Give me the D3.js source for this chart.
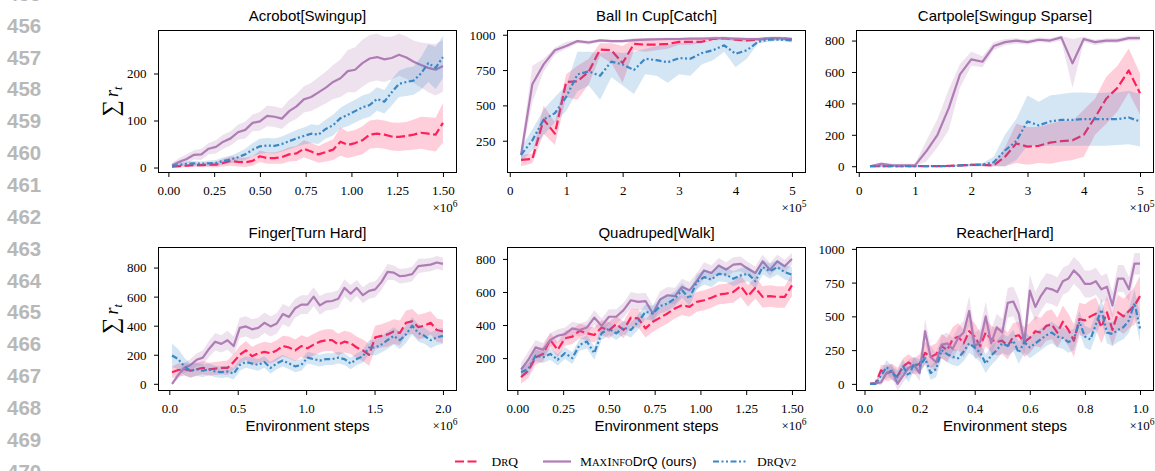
<!DOCTYPE html>
<html lang="en">
<head>
<meta charset="UTF-8">
<title>Learning curves</title>
<script src="https://cdn.jsdelivr.net/npm/d3@7"></script>
<style>
  body { margin: 0; background: #fff; }
  svg { display: block; }
</style>
</head>
<body>
<script>
// ---- data ----
const lineNumbers = [455, 456, 457, 458, 459, 460, 461, 462, 463, 464, 465, 466, 467, 468, 469, 470];

// Acrobot[Swingup], steps in 1e6
const acroX = d3.range(38).map(i => 0.02 + 0.04 * i);
const acroMax = [5,12,18,27,28,40,44,55,62,75,80,95,98,110,108,104,120,130,145,150,160,170,182,190,205,208,222,232,235,230,233,240,234,225,218,212,208,216];
const acroMaxSd = [5,8,10,10,12,12,14,15,15,16,18,18,20,22,22,22,24,26,28,30,32,34,36,40,45,48,50,50,50,48,45,45,45,45,48,52,55,55];
const acroV2 = [3,6,8,9,8,9,10,14,17,22,28,38,45,47,46,50,56,62,67,72,70,82,90,105,112,120,128,133,146,140,160,178,182,185,200,222,212,235];
const acroV2Sd = [3,4,5,5,5,6,6,8,8,10,12,14,16,16,16,16,17,18,18,20,20,20,22,22,24,24,25,25,25,25,28,28,30,30,35,40,45,45];
const acroDrq = [2,3,4,5,5,6,6,10,14,12,11,14,24,20,20,22,28,30,40,34,28,33,38,55,48,52,58,70,72,70,66,65,67,70,74,72,70,95];
const acroDrqSd = [2,3,3,4,4,5,6,8,10,10,10,10,12,12,12,14,15,16,18,18,18,20,22,30,28,28,30,30,30,30,30,30,30,32,34,35,36,42];

// Ball In Cup[Catch], steps in 1e5
const ballX = d3.range(1, 26).map(i => 0.2 * i);
const ballDrq = [115,120,400,300,665,670,740,895,890,800,935,930,930,935,950,950,950,970,975,965,960,965,975,975,970];
const ballDrqLo = [70,90,300,220,560,540,650,850,800,660,890,880,890,900,930,930,940,960,965,955,950,955,965,965,960];
const ballDrqHi = [150,160,500,380,720,780,830,940,940,920,970,975,975,975,975,975,970,985,985,975,970,975,985,985,980];
const ballMax = [150,650,790,890,920,955,945,960,955,955,962,965,968,970,970,972,972,975,975,972,970,970,975,975,965];
const ballMaxLo = [110,520,740,860,900,940,930,950,945,945,950,955,958,960,960,962,962,965,965,962,960,960,965,965,955];
const ballMaxHi = [200,780,830,910,950,965,960,970,965,965,975,975,978,980,980,982,982,985,985,982,980,980,985,985,975];
const ballV2 = [150,252,400,445,560,720,740,710,810,790,750,830,820,805,835,830,870,890,925,865,890,950,965,965,960];
const ballV2Lo = [100,180,290,380,460,600,640,540,700,640,580,720,710,660,720,710,790,820,880,770,830,940,950,955,945];
const ballV2Hi = [200,330,470,560,640,880,880,870,880,870,880,900,920,930,940,950,950,960,970,960,960,975,980,980,975];

// Cartpole[Swingup Sparse], steps in 1e5
const cartX = ballX;
const cartDrq = [0,0,0,0,0,0,0,2,5,8,8,5,60,145,125,130,150,160,165,200,310,430,500,610,465];
const cartDrqLo = [0,0,0,0,0,0,0,0,0,0,0,0,0,20,10,20,15,30,40,60,200,270,350,470,330];
const cartDrqHi = [5,5,5,5,5,5,5,8,12,15,15,15,120,270,250,250,270,290,290,360,430,570,640,750,590];
const cartMax = [0,15,5,5,5,95,200,370,585,680,665,765,790,800,790,805,800,820,655,810,790,800,800,815,815];
const cartMaxLo = [-5,0,0,0,0,30,120,230,500,640,630,740,770,780,775,790,785,800,500,790,770,785,785,800,800];
const cartMaxHi = [5,25,15,15,15,160,300,490,650,730,700,790,810,815,805,820,815,830,810,825,805,815,815,830,830];
const cartV2 = [0,0,0,0,0,0,0,0,5,8,10,25,100,160,285,260,285,295,295,300,300,300,300,310,285];
const cartV2Lo = [-5,-5,-5,-5,-5,-5,-5,-5,0,0,0,0,0,40,130,130,130,130,130,130,130,130,135,140,125];
const cartV2Hi = [5,5,5,5,5,5,5,5,10,15,20,60,200,300,450,410,450,460,470,470,465,470,470,480,460];

// Finger[Turn Hard], steps in 1e6
const fingX = d3.range(45).map(i => 0.02 + 0.045 * i);
const fingMax = [0,60,110,130,165,180,240,290,275,300,260,385,395,375,385,420,395,415,480,460,520,545,545,600,540,565,570,585,660,620,660,610,640,650,700,770,765,740,745,755,810,815,820,835,825];
const fingMaxSd = [10,25,35,40,45,50,55,60,60,65,65,70,70,70,70,70,70,70,70,70,65,65,65,65,65,60,60,60,60,60,55,55,55,55,55,55,50,50,50,50,50,45,45,45,45];
const fingDrq = [80,95,100,90,100,110,100,105,110,110,150,200,230,190,210,220,210,230,260,250,230,260,245,270,290,300,300,270,290,280,250,230,200,320,330,340,360,350,420,430,390,400,420,370,360];
const fingDrqSd = [40,45,45,45,45,45,45,45,45,50,55,60,65,65,65,70,70,70,70,75,75,75,75,75,75,75,75,75,75,75,75,75,75,80,80,85,85,85,85,85,85,85,80,80,80];
const fingV2 = [195,170,120,90,100,90,100,85,80,85,70,130,150,140,130,150,110,140,160,140,120,130,180,170,160,170,170,180,170,140,170,190,250,250,270,300,330,300,340,400,350,330,300,320,330];
const fingV2Sd = [80,70,60,50,45,45,40,40,40,40,40,40,40,40,40,40,40,40,40,40,40,40,40,40,40,40,40,40,40,40,40,45,50,55,55,60,60,60,60,60,60,55,55,55,55];

// Quadruped[Walk], steps in 1e6
const quadX = acroX;
const quadMax = [130,190,265,250,310,335,345,380,370,385,445,395,450,450,490,550,540,545,470,555,580,575,630,610,665,730,715,760,735,765,770,740,715,785,735,785,755,800];
const quadMaxSd = [40,50,45,40,40,40,40,40,40,40,45,45,45,45,45,50,50,50,50,50,50,50,50,50,50,50,45,45,45,45,45,40,40,40,40,40,40,35];
const quadDrq = [85,125,205,225,310,250,320,330,365,350,340,385,368,405,370,445,440,380,420,445,470,500,520,510,540,550,565,585,590,600,635,575,625,570,575,570,570,640];
const quadDrqSd = [40,45,45,45,45,45,45,45,45,45,45,45,50,50,50,55,55,55,60,60,60,60,60,60,60,60,60,60,60,65,65,65,65,65,65,65,65,65];
const quadV2 = [115,135,215,205,225,190,230,200,280,300,230,350,378,350,385,370,420,480,470,515,530,560,610,560,660,690,675,710,705,680,700,710,665,750,725,750,720,705];
const quadV2Sd = [30,35,35,35,35,35,35,35,35,40,40,40,40,40,40,45,45,45,45,45,45,45,45,45,45,45,45,45,45,45,45,45,45,45,45,45,45,45];

// Reacher[Hard], steps in 1e6
const reachX = d3.range(1, 51).map(i => 0.02 * i);
const reachMax = [0,5,10,80,100,0,60,120,140,80,390,200,160,290,300,260,340,380,540,280,310,500,300,420,380,600,610,520,300,690,570,650,710,700,680,760,780,840,800,740,740,760,700,720,580,780,780,700,890,890];
const reachMaxSd = [5,10,20,40,50,50,50,60,60,60,90,80,70,70,80,80,80,90,110,100,100,110,100,100,100,110,110,110,100,120,110,110,110,110,110,100,100,100,100,100,100,100,100,100,100,100,100,90,80,80];
const reachDrq = [0,5,100,80,90,60,130,160,130,150,230,200,220,280,250,330,350,300,390,350,280,380,330,310,320,280,350,360,310,340,390,380,430,440,380,460,400,320,480,470,500,520,420,530,400,530,500,540,580,650];
const reachDrqSd = [5,10,40,60,60,60,60,60,60,70,80,80,80,90,90,90,100,100,100,100,100,100,100,100,100,100,100,100,110,110,110,110,110,110,110,120,120,120,120,120,120,120,120,120,120,130,130,130,140,150];
const reachV2 = [0,0,60,125,80,50,130,60,150,130,190,80,110,250,220,200,190,240,300,270,230,150,210,250,300,280,320,230,310,270,300,330,360,380,350,340,310,330,460,350,330,440,550,380,370,400,420,470,600,410];
const reachV2Sd = [0,10,40,50,50,50,50,50,50,50,50,50,60,60,60,60,60,70,70,70,70,70,70,70,70,70,80,80,80,80,80,80,80,80,80,80,80,80,80,80,80,80,80,80,90,90,90,90,100,100];

// ---- styling ----
const W = 1155, H = 471;
const color = { drq: "#ff1f5b", max: "#b07cb6", v2: "#3a87c8" };
const dash = { drq: "9,3.5", max: null, v2: "6,2.5,2,2.5,2,2.5" };
const serif = "'Liberation Serif', 'Times New Roman', serif";
const sans = "'Liberation Sans', Arial, Helvetica, sans-serif";

const svg = d3.select("body").append("svg")
    .attr("width", W)
    .attr("height", H);

// paper line numbers on the left margin (the first and last are cut by the page edge)
svg.append("g")
    .selectAll("text")
    .data(lineNumbers)
    .join("text")
    .attr("x", 7)
    .attr("y", d => 32.7 + 31.85 * (d - 456))
    .attr("fill", "#b8b8b8")
    .style("font", `bold 20.5px ${sans}`)
    .text(d => d);

const panels = [
    { id: 0, title: "Acrobot[Swingup]", l: 158.5, r: 456.5, t: 30.5, b: 172.5,
      xd: [-0.054, 1.574], yd: [-10.6, 291.5], xt: [0, 0.25, 0.5, 0.75, 1, 1.25, 1.5], xf: d3.format(".2f"),
      yt: [0, 100, 200], exp: "6", ylabel: true, xlabel: false, xs: acroX,
      series: [
        { k: "drq", m: acroDrq, sd: acroDrqSd },
        { k: "max", m: acroMax, sd: acroMaxSd },
        { k: "v2", m: acroV2, sd: acroV2Sd }] },
    { id: 1, title: "Ball In Cup[Catch]", l: 507.5, r: 805.5, t: 30.5, b: 172.5,
      xd: [-0.04, 5.24], yd: [25, 1030], xt: [0, 1, 2, 3, 4, 5], xf: d3.format("d"),
      yt: [250, 500, 750, 1000], exp: "5", ylabel: false, xlabel: false, xs: ballX,
      series: [
        { k: "drq", m: ballDrq, lo: ballDrqLo, hi: ballDrqHi },
        { k: "max", m: ballMax, lo: ballMaxLo, hi: ballMaxHi },
        { k: "v2", m: ballV2, lo: ballV2Lo, hi: ballV2Hi }] },
    { id: 2, title: "Cartpole[Swingup Sparse]", l: 856.5, r: 1153.5, t: 30.5, b: 172.5,
      xd: [-0.04, 5.24], yd: [-40, 864], xt: [0, 1, 2, 3, 4, 5], xf: d3.format("d"),
      yt: [0, 200, 400, 600, 800], exp: "5", ylabel: false, xlabel: false, xs: cartX,
      series: [
        { k: "drq", m: cartDrq, lo: cartDrqLo, hi: cartDrqHi },
        { k: "max", m: cartMax, lo: cartMaxLo, hi: cartMaxHi },
        { k: "v2", m: cartV2, lo: cartV2Lo, hi: cartV2Hi }] },
    { id: 3, title: "Finger[Turn Hard]", l: 158.5, r: 456.5, t: 247.5, b: 390.5,
      xd: [-0.079, 2.099], yd: [-46, 938], xt: [0, 0.5, 1, 1.5, 2], xf: d3.format(".1f"),
      yt: [0, 200, 400, 600, 800], exp: "6", ylabel: true, xlabel: true, xs: fingX,
      series: [
        { k: "drq", m: fingDrq, sd: fingDrqSd },
        { k: "max", m: fingMax, sd: fingMaxSd },
        { k: "v2", m: fingV2, sd: fingV2Sd }] },
    { id: 4, title: "Quadruped[Walk]", l: 507.5, r: 805.5, t: 247.5, b: 390.5,
      xd: [-0.054, 1.574], yd: [4, 869], xt: [0, 0.25, 0.5, 0.75, 1, 1.25, 1.5], xf: d3.format(".2f"),
      yt: [200, 400, 600, 800], exp: "6", ylabel: false, xlabel: true, xs: quadX,
      series: [
        { k: "drq", m: quadDrq, sd: quadDrqSd },
        { k: "max", m: quadMax, sd: quadMaxSd },
        { k: "v2", m: quadV2, sd: quadV2Sd }] },
    { id: 5, title: "Reacher[Hard]", l: 856.5, r: 1153.5, t: 247.5, b: 390.5,
      xd: [-0.029, 1.049], yd: [-49, 1010], xt: [0, 0.2, 0.4, 0.6, 0.8, 1], xf: d3.format(".1f"),
      yt: [0, 250, 500, 750, 1000], exp: "6", ylabel: false, xlabel: true, xs: reachX,
      series: [
        { k: "drq", m: reachDrq, sd: reachDrqSd },
        { k: "max", m: reachMax, sd: reachMaxSd },
        { k: "v2", m: reachV2, sd: reachV2Sd }] }
];

panels.forEach(p => {
    const x = d3.scaleLinear().domain(p.xd).range([p.l, p.r]);
    const y = d3.scaleLinear().domain(p.yd).range([p.b, p.t]);
    const g = svg.append("g");

    g.append("clipPath").attr("id", "clip" + p.id)
        .append("rect")
        .attr("x", p.l).attr("y", p.t)
        .attr("width", p.r - p.l).attr("height", p.b - p.t);

    const plot = g.append("g").attr("clip-path", `url(#clip${p.id})`);

    p.series.forEach(s => {
        const pts = p.xs.map((v, i) => ({
            x: v,
            m: s.m[i],
            lo: s.lo ? s.lo[i] : s.m[i] - s.sd[i],
            hi: s.hi ? s.hi[i] : s.m[i] + s.sd[i]
        }));
        plot.append("path")
            .datum(pts)
            .attr("d", d3.area().x(d => x(d.x)).y0(d => y(d.lo)).y1(d => y(d.hi)))
            .attr("fill", color[s.k])
            .attr("fill-opacity", 0.22);
        plot.append("path")
            .datum(pts)
            .attr("d", d3.line().x(d => x(d.x)).y(d => y(d.m)))
            .attr("fill", "none")
            .attr("stroke", color[s.k])
            .attr("stroke-width", 2.2)
            .attr("stroke-linejoin", "round")
            .attr("stroke-dasharray", dash[s.k]);
    });

    // axes
    const xa = g.append("g")
        .attr("transform", `translate(0,${p.b})`)
        .call(d3.axisBottom(x).tickValues(p.xt).tickFormat(p.xf).tickSize(4.5).tickSizeOuter(0));
    xa.select(".domain").remove();
    xa.selectAll("text").attr("y", 22.5).attr("dy", null)
        .attr("fill", "#000").style("font", `13px ${serif}`);

    const ya = g.append("g")
        .attr("transform", `translate(${p.l},0)`)
        .call(d3.axisLeft(y).tickValues(p.yt).tickFormat(d3.format("d"))
            .tickSize(4.5).tickSizeOuter(0).tickPadding(7.5));
    ya.select(".domain").remove();
    ya.selectAll("text").attr("dy", "0.34em")
        .attr("fill", "#000").style("font", `13px ${serif}`);

    g.append("rect")
        .attr("x", p.l).attr("y", p.t)
        .attr("width", p.r - p.l).attr("height", p.b - p.t)
        .attr("fill", "none").attr("stroke", "#000").attr("stroke-width", 1);

    // title
    g.append("text")
        .attr("x", (p.l + p.r) / 2)
        .attr("y", p.t - 9.5)
        .attr("text-anchor", "middle")
        .style("font", `15px ${sans}`)
        .text(p.title);

    // offset label  x10^n
    const ex = g.append("text")
        .attr("x", p.r + 1)
        .attr("y", p.b + 39.5)
        .attr("text-anchor", "end")
        .style("font", `13px ${serif}`);
    ex.append("tspan").text("×10");
    ex.append("tspan").attr("dy", -5).style("font-size", "9.5px").text(p.exp);

    if (p.xlabel) {
        g.append("text")
            .attr("x", (p.l + p.r) / 2)
            .attr("y", p.b + 40.5)
            .attr("text-anchor", "middle")
            .style("font", `15px ${sans}`)
            .text("Environment steps");
    }

    if (p.ylabel) {
        const yl = g.append("text")
            .attr("transform", `translate(118,${(p.t + p.b) / 2}) rotate(-90)`)
            .attr("text-anchor", "middle")
            .style("font-family", serif);
        yl.append("tspan").style("font-size", "23px").text("∑");
        yl.append("tspan").attr("dx", 3).style("font-size", "18px").style("font-style", "italic").text("r");
        yl.append("tspan").attr("dy", 3.5).style("font-size", "12px").style("font-style", "italic").text("t");
    }
});

// legend
const legendItems = [
    { k: "drq", x0: 455, x1: 480, tx: 491.5 },
    { k: "max", x0: 543, x1: 571, tx: 580 },
    { k: "v2", x0: 713, x1: 747, tx: 757 }
];
const ly = 461.5;
const lg = svg.append("g");
lg.selectAll("line")
    .data(legendItems)
    .join("line")
    .attr("x1", d => d.x0).attr("x2", d => d.x1)
    .attr("y1", ly).attr("y2", ly)
    .attr("stroke", d => color[d.k])
    .attr("stroke-width", 2.2)
    .attr("stroke-dasharray", d => dash[d.k]);

// small-caps names built from pieces: [text, isSmall, fontFamily]
const legendLabels = {
    drq: [["D", 0, serif], ["R", 1, serif], ["Q", 0, serif]],
    max: [["M", 0, serif], ["AX", 1, serif], ["I", 0, serif], ["NFO", 1, serif], ["DrQ (ours)", 0, sans]],
    v2: [["D", 0, serif], ["R", 1, serif], ["Q", 0, serif], ["V2", 1, serif]]
};
legendItems.forEach(d => {
    const t = lg.append("text")
        .attr("x", d.tx)
        .attr("y", ly + 4.5);
    legendLabels[d.k].forEach(([s, small, fam]) => {
        t.append("tspan")
            .style("font-family", fam)
            .style("font-size", small ? "10.5px" : "13.5px")
            .text(s);
    });
});
</script>
</body>
</html>
